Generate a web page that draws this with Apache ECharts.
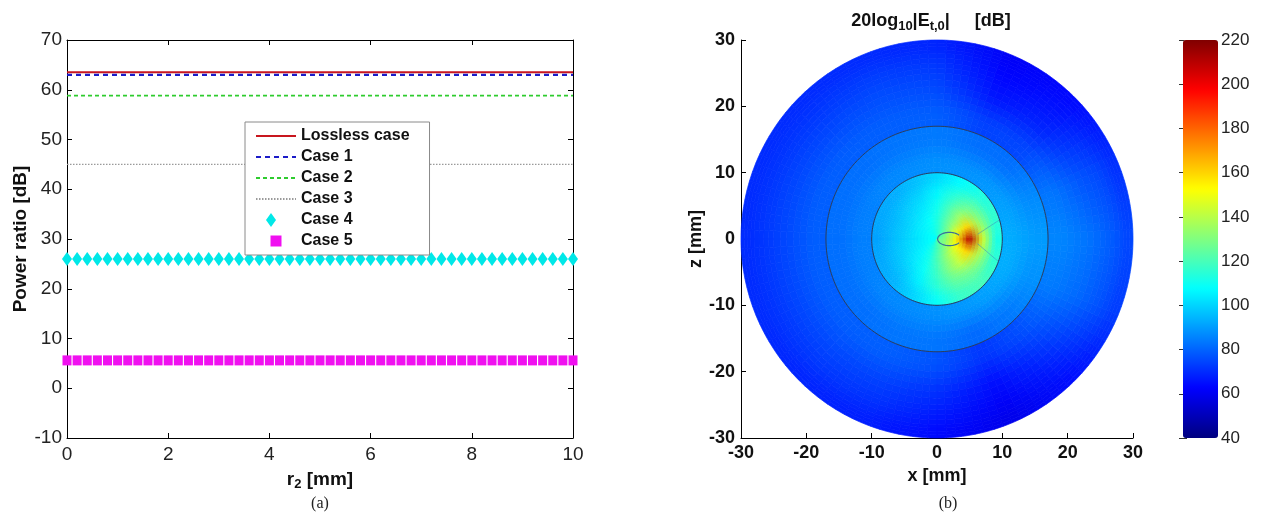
<!DOCTYPE html>
<html><head><meta charset="utf-8">
<script src="https://cdn.jsdelivr.net/npm/echarts@6/dist/echarts.min.js"></script>
<style>html,body{margin:0;padding:0;background:#fff}#c{width:1261px;height:525px}</style>
</head><body><div id="c"></div>
<script>
// ---------- Panel (a) data ----------
const r2 = [0,0.2,0.4,0.6,0.8,1,1.2,1.4,1.6,1.8,
  2,2.2,2.4,2.6,2.8,3,3.2,3.4,3.6,3.8,
  4,4.2,4.4,4.6,4.8,5,5.2,5.4,5.6,5.8,
  6,6.2,6.4,6.6,6.8,7,7.2,7.4,7.6,7.8,
  8,8.2,8.4,8.6,8.8,9,9.2,9.4,9.6,9.8,10];
const losslessCase = [63.5,63.5,63.5,63.5,63.5,63.5,63.5,63.5,63.5,63.5,
  63.5,63.5,63.5,63.5,63.5,63.5,63.5,63.5,63.5,63.5,
  63.5,63.5,63.5,63.5,63.5,63.5,63.5,63.5,63.5,63.5,
  63.5,63.5,63.5,63.5,63.5,63.5,63.5,63.5,63.5,63.5,
  63.5,63.5,63.5,63.5,63.5,63.5,63.5,63.5,63.5,63.5,63.5];
const case1 = [63,63,63,63,63,63,63,63,63,63,
  63,63,63,63,63,63,63,63,63,63,
  63,63,63,63,63,63,63,63,63,63,
  63,63,63,63,63,63,63,63,63,63,
  63,63,63,63,63,63,63,63,63,63,63];
const case2 = [58.8,58.8,58.8,58.8,58.8,58.8,58.8,58.8,58.8,58.8,
  58.8,58.8,58.8,58.8,58.8,58.8,58.8,58.8,58.8,58.8,
  58.8,58.8,58.8,58.8,58.8,58.8,58.8,58.8,58.8,58.8,
  58.8,58.8,58.8,58.8,58.8,58.8,58.8,58.8,58.8,58.8,
  58.8,58.8,58.8,58.8,58.8,58.8,58.8,58.8,58.8,58.8,58.8];
const case3 = [45,45,45,45,45,45,45,45,45,45,
  45,45,45,45,45,45,45,45,45,45,
  45,45,45,45,45,45,45,45,45,45,
  45,45,45,45,45,45,45,45,45,45,
  45,45,45,45,45,45,45,45,45,45,45];
const case4 = [26,26,26,26,26,26,26,26,26,26,
  26,26,26,26,26,26,26,26,26,26,
  26,26,26,26,26,26,26,26,26,26,
  26,26,26,26,26,26,26,26,26,26,
  26,26,26,26,26,26,26,26,26,26,26];
const case5 = [5.6,5.6,5.6,5.6,5.6,5.6,5.6,5.6,5.6,5.6,
  5.6,5.6,5.6,5.6,5.6,5.6,5.6,5.6,5.6,5.6,
  5.6,5.6,5.6,5.6,5.6,5.6,5.6,5.6,5.6,5.6,
  5.6,5.6,5.6,5.6,5.6,5.6,5.6,5.6,5.6,5.6,
  5.6,5.6,5.6,5.6,5.6,5.6,5.6,5.6,5.6,5.6,5.6];
const seriesNames = ['Lossless case','Case 1','Case 2','Case 3','Case 4','Case 5'];

// ---------- Panel (b) data: polar grid of 20log10|E| in dB ----------
const ringEdges = [0, 2, 4, 6, 8, 10, 13, 17, 21, 25, 28, 30];   // mm
const sectorCount = 16;   // sector k centred on angle k*22.5 deg (from +x towards +z)
const fieldDb = [
  [128,126,122,118,114,111,109,108,108,108,110,114,119,123,126,128],
  [155,145,132,122,113,108,105,104,103,104,106,111,120,130,140,150],
  [210,160,135,121,110,104,101, 99, 99,100,103,109,118,130,142,160],
  [145,132,124,115,106,100, 97, 95, 95, 96, 98,105,115,124,128,135],
  [112,116,113,107,101, 96, 93, 92, 91, 92, 94,100,109,117,120,116],
  [ 93, 91, 89, 88, 88, 87, 86, 85, 85, 85, 86, 87, 88, 89, 91, 93],
  [ 90, 87, 82, 82, 84, 83, 82, 82, 82, 82, 82, 83, 83, 81, 84, 88],
  [ 86, 83, 75, 74, 79, 79, 79, 79, 79, 79, 79, 79, 77, 72, 77, 84],
  [ 83, 78, 69, 66, 75, 76, 75, 75, 75, 75, 75, 74, 71, 65, 72, 81],
  [ 79, 75, 66, 63, 72, 73, 72, 72, 72, 72, 72, 71, 67, 61, 68, 77],
  [ 75, 71, 64, 61, 69, 70, 70, 70, 70, 70, 69, 68, 64, 59, 65, 73]
];
const layerRadii = [10, 17];                 // mm, layer boundaries
const loopContour = [[1.9, 0, 1.8, 1.0]];    // centre x, centre z, half-width, half-height (mm)
const contourSegments = [[6.2, 0.7, 9.6, 2.9], [6.2, -0.7, 9.4, -3.4]]; // x0, z0, x1, z1 (mm)
const colorbarRange = [40, 220];

const jet = ['#000080','#0000ff','#0080ff','#00ffff','#80ff80','#ffff00','#ff8000','#ff0000','#800000'];
const FF = '"Liberation Sans", Arial, sans-serif';

const zip = (xs, ys) => xs.map((x, i) => [x, ys[i]]);
const heatData = [];
fieldDb.forEach((row, ri) => row.forEach((v, si) => heatData.push([ri, si, v])));
const ringMid = ringEdges.slice(0, -1).map((e, i) => (e + ringEdges[i + 1]) / 2);
const layerOf = r => layerRadii.filter(b => r > b).length;

// each polar cell is shaded smoothly between the visualMap colours of neighbouring cells
function renderCell(params, api) {
  const ri = api.value(0), si = api.value(1);
  const nRing = ringMid.length;
  const col = (r, s) => api.visual('color', r * sectorCount + ((s % sectorCount) + sectorCount) % sectorCount);
  const r0 = ringEdges[ri], r1 = ringEdges[ri + 1];
  const step = 2 * Math.PI / sectorCount;
  const a0 = (si - 0.5) * step;
  const NR = 4, NA = 8, NP = 3;
  const children = [];
  for (let i = 0; i < NR; i++) {
    const ra = r0 + (r1 - r0) * i / NR, rb = r0 + (r1 - r0) * (i + 1) / NR, rm = (ra + rb) / 2;
    let rLo, rHi, tr;
    if (rm >= ringMid[ri]) { rLo = ri; rHi = ri + 1; } else { rLo = ri - 1; rHi = ri; }
    if (rLo < 0 || rHi >= nRing || layerOf(ringMid[rLo]) !== layerOf(ringMid[rHi])) { rLo = ri; rHi = ri; tr = 0; }
    else tr = (rm - ringMid[rLo]) / (ringMid[rHi] - ringMid[rLo]);
    for (let j = 0; j < NA; j++) {
      const aa = a0 + step * j / NA, ab = a0 + step * (j + 1) / NA, am = (aa + ab) / 2;
      const u = am / step - si;
      let sLo, sHi, ta;
      if (u >= 0) { sLo = si; sHi = si + 1; ta = u; } else { sLo = si - 1; sHi = si; ta = u + 1; }
      const cLo = echarts.color.lerp(ta, [col(rLo, sLo), col(rLo, sHi)]);
      const cHi = echarts.color.lerp(ta, [col(rHi, sLo), col(rHi, sHi)]);
      const c = echarts.color.lerp(tr, [cLo, cHi]);
      const pts = [];
      for (let k = 0; k <= NP; k++) { const a = aa + (ab - aa) * k / NP; pts.push(api.coord([rb * Math.cos(a), rb * Math.sin(a)])); }
      for (let k = NP; k >= 0; k--) { const a = aa + (ab - aa) * k / NP; pts.push(api.coord([ra * Math.cos(a), ra * Math.sin(a)])); }
      children.push({ type: 'polygon', shape: { points: pts }, style: { fill: c, stroke: c, lineWidth: 0.7 } });
    }
  }
  return { type: 'group', children };
}
function renderCircle(params, api) {
  const r = api.value(0), pts = [];
  for (let k = 0; k <= 180; k++) { const a = k / 180 * 2 * Math.PI; pts.push(api.coord([r * Math.cos(a), r * Math.sin(a)])); }
  return { type: 'polyline', shape: { points: pts }, style: { stroke: '#2b3f5c', lineWidth: 1, fill: null } };
}
function renderLoop(params, api) {
  const cx = api.value(0), cz = api.value(1), w = api.value(2), h = api.value(3), pts = [];
  for (let k = 0; k <= 60; k++) { const a = (35 + k / 60 * 290) * Math.PI / 180; pts.push(api.coord([cx + w * Math.cos(a), cz + h * Math.sin(a)])); }
  return { type: 'polyline', shape: { points: pts }, style: { stroke: '#3a6e9a', lineWidth: 1.2, fill: null } };
}
function renderSegment(params, api) {
  const p0 = api.coord([api.value(0), api.value(1)]), p1 = api.coord([api.value(2), api.value(3)]);
  return { type: 'line', shape: { x1: p0[0], y1: p0[1], x2: p1[0], y2: p1[1] },
    style: { stroke: '#3f8fbf', lineWidth: 1, opacity: 0.55 } };
}

const axisLineBlack = { show: true, onZero: false, lineStyle: { color: '#000', width: 1 } };
const tickIn = { show: true, inside: true, length: 5, lineStyle: { color: '#000' } };
const hideSym = { opacity: 0 };

const chart = echarts.init(document.getElementById('c'), null, { renderer: 'canvas' });
chart.setOption({
  animation: false,
  backgroundColor: '#fff',
  title: {
    text: '{b|20log}{s|10}{b||E}{s|t,0}{b||     [dB]}',
    left: 926, top: 3, textAlign: 'center',
    textStyle: { rich: {
      b: { fontFamily: FF, fontWeight: 'bold', fontSize: 18, color: '#111', lineHeight: 26, verticalAlign: 'middle' },
      s: { fontFamily: FF, fontWeight: 'bold', fontSize: 13, color: '#111', lineHeight: 26, padding: [11, 0, 0, 0] }
    } }
  },
  grid: [
    { left: 67, top: 40, width: 506, height: 398 },
    { left: 741, top: 40, width: 392, height: 398 },
    { left: 1183, top: 40, width: 35, height: 398 }
  ],
  legend: {
    orient: 'vertical', left: 245, top: 122,
    padding: [6, 20, 6, 10], itemGap: 5, itemWidth: 40, itemHeight: 15,
    symbolKeepAspect: true,
    backgroundColor: '#fff', borderColor: '#8a8a8a', borderWidth: 1,
    textStyle: { fontFamily: FF, fontWeight: 'bold', fontSize: 16, color: '#111', lineHeight: 16 },
    data: [
      { name: 'Lossless case', itemStyle: hideSym },
      { name: 'Case 1', itemStyle: hideSym },
      { name: 'Case 2', itemStyle: hideSym },
      { name: 'Case 3', itemStyle: hideSym },
      { name: 'Case 4', icon: 'path://M0,0M40,15M15,0.5L20,7.5L15,14.5L10,7.5Z' },
      { name: 'Case 5', icon: 'path://M0,0M40,15M14.5,2L25.5,2L25.5,13L14.5,13Z' }
    ]
  },
  xAxis: [
    { gridIndex: 0, type: 'value', min: 0, max: 10, interval: 2, position: 'bottom',
      axisLine: axisLineBlack, axisTick: tickIn, splitLine: { show: false },
      axisLabel: { fontFamily: FF, fontSize: 19, color: '#222', margin: 7 },
      name: '{b|r}{s|2}{b| [mm]}', nameLocation: 'middle', nameGap: 25,
      nameTextStyle: { rich: {
        b: { fontFamily: FF, fontWeight: 'bold', fontSize: 19, color: '#111', lineHeight: 22 },
        s: { fontFamily: FF, fontWeight: 'bold', fontSize: 13, color: '#111', lineHeight: 22, padding: [9, 0, 0, 0] } } } },
    { gridIndex: 0, type: 'value', min: 0, max: 10, interval: 2, position: 'top',
      axisLine: axisLineBlack, axisTick: tickIn, axisLabel: { show: false }, splitLine: { show: false } },
    { gridIndex: 1, type: 'value', min: -30, max: 30, interval: 10, position: 'bottom',
      axisLine: axisLineBlack, axisTick: tickIn, splitLine: { show: false },
      axisLabel: { fontFamily: FF, fontSize: 18, fontWeight: 'bold', color: '#111', margin: 6 },
      name: 'x [mm]', nameLocation: 'middle', nameGap: 29,
      nameTextStyle: { fontFamily: FF, fontSize: 18, fontWeight: 'bold', color: '#111' } },
    { gridIndex: 2, type: 'value', min: 0, max: 1, show: false }
  ],
  yAxis: [
    { gridIndex: 0, type: 'value', min: -10, max: 70, interval: 10, position: 'left',
      axisLine: axisLineBlack, axisTick: tickIn, splitLine: { show: false },
      axisLabel: { fontFamily: FF, fontSize: 19, color: '#222', margin: 5 },
      name: 'Power ratio [dB]', nameLocation: 'middle', nameGap: 36, nameRotate: 90,
      nameTextStyle: { fontFamily: FF, fontSize: 19, fontWeight: 'bold', color: '#111' } },
    { gridIndex: 0, type: 'value', min: -10, max: 70, interval: 10, position: 'right',
      axisLine: axisLineBlack, axisTick: tickIn, axisLabel: { show: false }, splitLine: { show: false } },
    { gridIndex: 1, type: 'value', min: -30, max: 30, interval: 10, position: 'left',
      axisLine: axisLineBlack, axisTick: tickIn, splitLine: { show: false },
      axisLabel: { fontFamily: FF, fontSize: 18, fontWeight: 'bold', color: '#111', margin: 6 },
      name: 'z [mm]', nameLocation: 'middle', nameGap: 33, nameRotate: 90,
      nameTextStyle: { fontFamily: FF, fontSize: 18, fontWeight: 'bold', color: '#111' } },
    { gridIndex: 2, type: 'value', min: colorbarRange[0], max: colorbarRange[1], interval: 20, position: 'right',
      axisLine: { show: false }, axisTick: { show: true, inside: true, length: 4, lineStyle: { color: '#333' } },
      splitLine: { show: false },
      axisLabel: { fontFamily: FF, fontSize: 17, color: '#222', margin: 3 } },
    { gridIndex: 2, type: 'value', min: colorbarRange[0], max: colorbarRange[1], interval: 20, position: 'left',
      axisLine: { show: false }, axisTick: { show: true, inside: true, length: 4, lineStyle: { color: '#333' } },
      splitLine: { show: false }, axisLabel: { show: false } }
  ],
  visualMap: {
    type: 'continuous', min: colorbarRange[0], max: colorbarRange[1], dimension: 2, seriesIndex: 6,
    calculable: false, realtime: false, orient: 'vertical', left: 1183, top: 40, padding: 0,
    itemWidth: 35, itemHeight: 398, text: null, inRange: { color: jet }
  },
  series: [
    { name: 'Lossless case', type: 'line', xAxisIndex: 0, yAxisIndex: 0, data: zip(r2, losslessCase),
      symbol: 'none', lineStyle: { color: '#c8161e', width: 2 }, itemStyle: { color: '#c8161e' }, z: 5 },
    { name: 'Case 1', type: 'line', xAxisIndex: 0, yAxisIndex: 0, data: zip(r2, case1),
      symbol: 'none', lineStyle: { color: '#1c1cc8', width: 2.2, type: [5, 4] }, itemStyle: { color: '#1c1cc8' }, z: 6 },
    { name: 'Case 2', type: 'line', xAxisIndex: 0, yAxisIndex: 0, data: zip(r2, case2),
      symbol: 'none', lineStyle: { color: '#2ecc2e', width: 1.7, type: [4, 3] }, itemStyle: { color: '#2ecc2e' } },
    { name: 'Case 3', type: 'line', xAxisIndex: 0, yAxisIndex: 0, data: zip(r2, case3),
      symbol: 'none', lineStyle: { color: '#9a9a9a', width: 1.2, type: [1.5, 1.5] }, itemStyle: { color: '#9a9a9a' } },
    { name: 'Case 4', type: 'scatter', xAxisIndex: 0, yAxisIndex: 0, data: zip(r2, case4), clip: false,
      symbol: 'diamond', symbolSize: [10, 14], itemStyle: { color: '#00e8e8', opacity: 1 } },
    { name: 'Case 5', type: 'scatter', xAxisIndex: 0, yAxisIndex: 0, data: zip(r2, case5), clip: false,
      symbol: 'rect', symbolSize: [9, 10], itemStyle: { color: '#f010f0', opacity: 1 } },
    { name: 'field', type: 'custom', xAxisIndex: 2, yAxisIndex: 2, data: heatData, renderItem: renderCell,
      encode: { x: -1, y: -1 }, silent: true, z: 1 },
    { name: 'layers', type: 'custom', xAxisIndex: 2, yAxisIndex: 2, data: layerRadii.map(r => [r]),
      renderItem: renderCircle, encode: { x: -1, y: -1 }, silent: true, z: 3 },
    { name: 'loop', type: 'custom', xAxisIndex: 2, yAxisIndex: 2, data: loopContour,
      renderItem: renderLoop, encode: { x: -1, y: -1 }, silent: true, z: 3 },
    { name: 'contours', type: 'custom', xAxisIndex: 2, yAxisIndex: 2, data: contourSegments,
      renderItem: renderSegment, encode: { x: -1, y: -1 }, silent: true, z: 2 }
  ],
  graphic: [
    { type: 'text', x: 320, y: 496, style: { text: '(a)', font: '16px "Liberation Serif", serif', fill: '#222', textAlign: 'center' } },
    { type: 'text', x: 948, y: 496, style: { text: '(b)', font: '16px "Liberation Serif", serif', fill: '#222', textAlign: 'center' } }
  ]
});
</script></body></html>
